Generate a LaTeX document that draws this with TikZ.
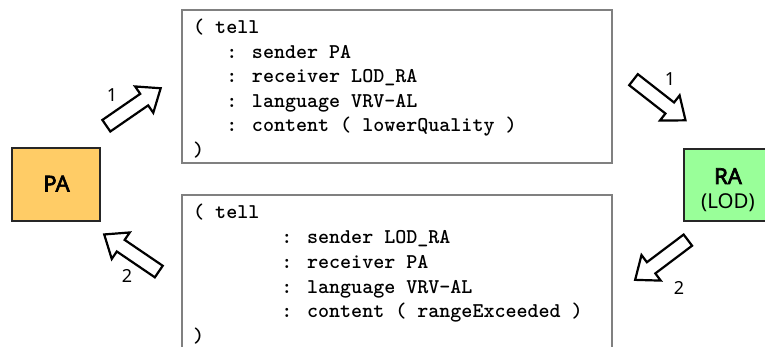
\documentclass[tikz,border=0pt]{standalone}
\usepackage{fontspec}
\usetikzlibrary{calc}
\newfontfamily\labelfont{Noto Sans}
\newfontfamily\labelboldfont{Noto Sans}[FakeBold=3]
\definecolor{paOrange}{HTML}{FFCC66}
\definecolor{raGreen}{HTML}{99FF99}
\definecolor{boxGray}{HTML}{808080}
\newlength{\cw}
\setlength{\cw}{11.025pt}
\newcommand{\msgfont}{\fontsize{21}{24}\ttfamily\bfseries}
\begin{document}
\begin{tikzpicture}[x=1pt,y=-1pt]
\useasboundingbox (0,0) rectangle (765,347);
\clip (0,0) rectangle (765,347);
\tikzset{
  agent/.style={draw=black!85, line width=1.3pt, inner sep=0pt},
  agenttext/.style={inner sep=0pt, font=\fontsize{20.5}{25}\labelfont, anchor=base},
  agentname/.style={agenttext, font=\fontsize{22}{25}\labelboldfont},
  msgbox/.style={draw=boxGray, line width=1.3pt, fill=white, inner sep=0pt},
  msgline/.style={anchor=base west, inner sep=0pt, font=\msgfont},
  arrowline/.style={draw=black, fill=white, line width=2.2pt, line join=miter},
  steplabel/.style={font=\fontsize{18}{18}\labelfont, inner sep=0pt},
  blockarrow/.pic={
    \path[arrowline] (-33,-7) -- (13,-7) -- (13,-16) -- (33,0)
      -- (13,16) -- (13,7) -- (-33,7) -- cycle;
  }
}

% agents
\node[agent, fill=paOrange, minimum width=88pt, minimum height=73pt] (pa) at (56,184.5) {};
\node[agentname] (paname) at (56.5,191.5) {PA};
\node[agent, fill=raGreen, minimum width=88pt, minimum height=72pt] (ra) at (728,185) {};
\node[agentname] (raname) at (728,184) {RA};
\node[agenttext] (ralod) at (728,209) {(LOD)};

% message boxes
\node[msgbox, minimum width=430pt, minimum height=153pt] (tellA) at (397,86.5) {};
\node[msgbox, minimum width=430pt, minimum height=165pt] (tellB) at (397,277.5) {};

% first message
\node[msgline] (a0) at (193,34) {( tell};
\node[msgline] (a1) at ($(193,58.5)+(3\cw,0)$) {: sender PA};
\node[msgline] (a2) at ($(193,83)+(3\cw,0)$) {: receiver LOD\_RA};
\node[msgline] (a3) at ($(193,107.5)+(3\cw,0)$) {: language VRV-AL};
\node[msgline] (a4) at ($(193,132)+(3\cw,0)$) {: content ( lowerQuality )};
\node[msgline] (a5) at (193,156.5) {)};

% second message
\node[msgline] (b0) at (193,219) {( tell};
\node[msgline] (b1) at ($(193,243.7)+(8\cw,0)$) {: sender LOD\_RA};
\node[msgline] (b2) at ($(193,268.4)+(8\cw,0)$) {: receiver PA};
\node[msgline] (b3) at ($(193,293.1)+(8\cw,0)$) {: language VRV-AL};
\node[msgline] (b4) at ($(193,317.8)+(8\cw,0)$) {: content ( rangeExceeded )};
\node[msgline] (b5) at (193,342.5) {)};

% flow arrows
\pic[rotate=34.6] at (133.5,107) {blockarrow};
\pic[rotate=145.8] at (131.5,253) {blockarrow};
\pic[rotate=-38] at (659.5,100) {blockarrow};
\pic[rotate=-143] at (661.5,260) {blockarrow};

% step numbers
\node[steplabel] (s1a) at (112,95) {1};
\node[steplabel] (s2a) at (127,276) {2};
\node[steplabel] (s1b) at (670,79) {1};
\node[steplabel] (s2b) at (679,288) {2};
\end{tikzpicture}
\end{document}
